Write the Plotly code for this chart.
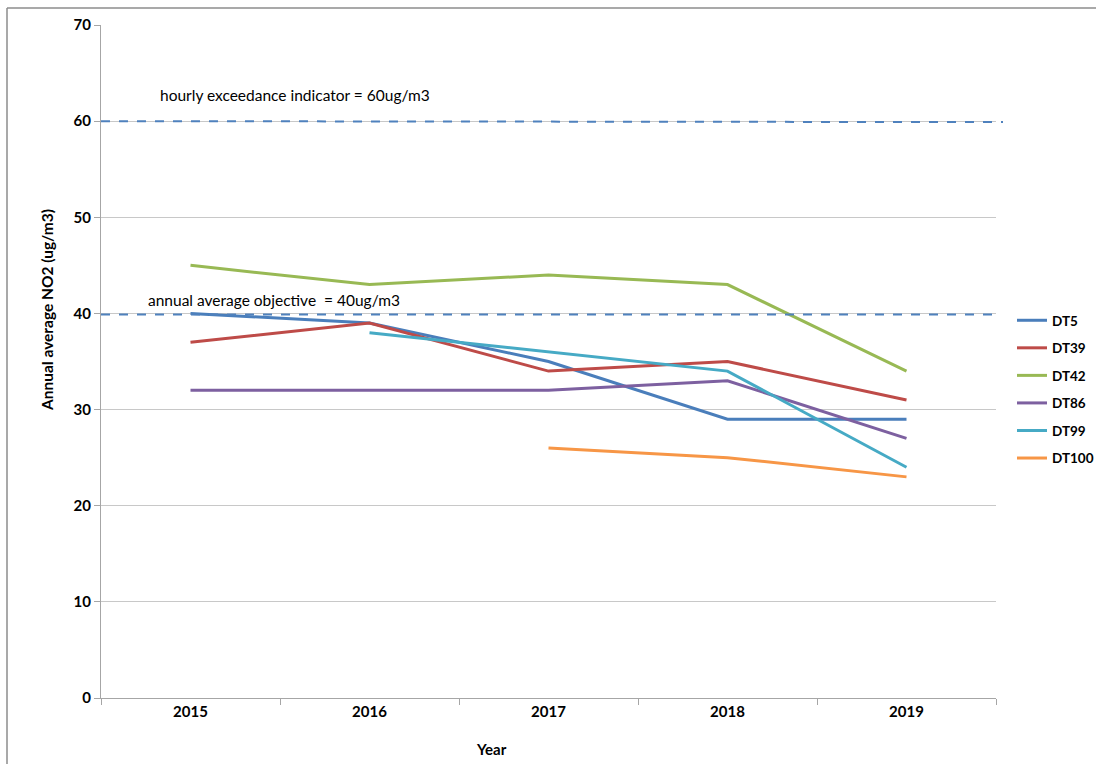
import plotly.graph_objects as go

years = ["2015", "2016", "2017", "2018", "2019"]
series_names = ["DT5", "DT39", "DT42", "DT86", "DT99", "DT100"]
dt5 = [40, 39, 35, 29, 29]
dt39 = [37, 39, 34, 35, 31]
dt42 = [45, 43, 44, 43, 34]
dt86 = [32, 32, 32, 33, 27]
dt99 = [None, 38, 36, 34, 24]
dt100 = [None, None, 26, 25, 23]
colors = ["#4A7EBB", "#BE4B48", "#98B954", "#7D60A0", "#46AAC5", "#F79646"]

hourly_limit = 60
annual_objective = 40

FONT = "Lato, 'Open Sans', sans-serif"

fig = go.Figure()
for name, vals, col in zip(series_names, [dt5, dt39, dt42, dt86, dt99, dt100], colors):
    fig.add_trace(go.Scatter(x=years, y=vals, name=name, mode="lines", legendgroup=name,
                             line=dict(color=col, width=3), connectgaps=False))

L, R, T, B = 101, 996, 25, 698
W, H = 1096, 764
def px(x):
    return (x - L) / (R - L)
def py(y):
    return (B - y) / (B - T)

shapes = [
    dict(type="line", xref="paper", yref="y", x0=0, x1=px(1003), y0=hourly_limit, y1=hourly_limit - 0.1,
         line=dict(color="#4F81BD", width=2, dash="dash")),
    dict(type="line", xref="paper", yref="y", x0=0, x1=px(998), y0=annual_objective - 0.1, y1=annual_objective - 0.1,
         line=dict(color="#4F81BD", width=2, dash="dash")),
    dict(type="line", xref="paper", yref="paper", x0=px(7), x1=px(1100), y0=py(8), y1=py(8),
         line=dict(color="#8c8c8c", width=1.5)),
    dict(type="line", xref="paper", yref="paper", x0=px(7), x1=px(7), y0=py(8), y1=py(770),
         line=dict(color="#8c8c8c", width=1.5)),
]

annotations = [
    dict(text="hourly exceedance indicator = 60ug/m3", xref="paper", yref="paper",
         x=px(158), y=py(95), xanchor="left", yanchor="middle", showarrow=False,
         font=dict(family=FONT, size=15.5, color="#000")),
    dict(text="annual average objective  = 40ug/m3", xref="paper", yref="paper",
         x=px(146), y=py(300), xanchor="left", yanchor="middle", showarrow=False,
         font=dict(family=FONT, size=15.5, color="#000")),
    dict(text="<b>Year</b>", xref="paper", yref="paper", x=px(491), y=py(749),
         xanchor="center", yanchor="middle", showarrow=False,
         font=dict(family=FONT, size=15, color="#000")),
    dict(text="<b>Annual average NO2 (ug/m3)</b>", xref="paper", yref="paper", x=px(47), y=py(310),
         xanchor="center", yanchor="middle", showarrow=False, textangle=-90,
         font=dict(family=FONT, size=15.5, color="#000")),
]

fig.update_layout(
    width=W, height=H, autosize=False,
    margin=dict(l=L, r=W - R, t=T, b=H - B),
    paper_bgcolor="white", plot_bgcolor="white",
    font=dict(family=FONT, size=13, color="#000"),
    showlegend=True,
    legend=dict(xref="container", yref="container", x=1012 / W, y=1 - 305 / H,
                xanchor="left", yanchor="top",
                font=dict(family=FONT, size=13.5, color="#000", weight="bold"),
                tracegroupgap=7, itemwidth=30, bgcolor="rgba(0,0,0,0)"),
    shapes=shapes,
    annotations=annotations,
)
fig.update_xaxes(type="category", range=[-0.5, 4.5], showgrid=False,
                 showline=True, linecolor="#a6a6a6", linewidth=1,
                 ticks="outside", ticklen=6, tickcolor="#a6a6a6", tickson="boundaries",
                 tickfont=dict(family=FONT, size=15, color="#000", weight="bold"))
fig.update_yaxes(range=[0, 70], dtick=10, showgrid=True, gridcolor="#c8c8c8", gridwidth=1,
                 showline=True, linecolor="#a6a6a6", linewidth=1, zeroline=False,
                 ticks="outside", ticklen=6, tickcolor="#a6a6a6",
                 tickfont=dict(family=FONT, size=15, color="#000", weight="bold"))

fig.write_html("out.html",
               config={"responsive": False, "displayModeBar": False},
               post_script="document.body.style.margin='0';document.body.style.overflow='hidden';")
